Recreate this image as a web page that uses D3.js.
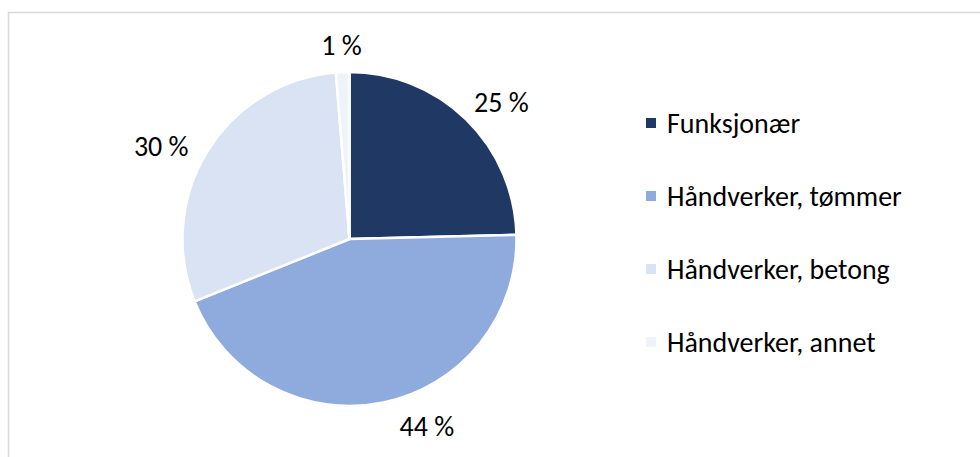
<!DOCTYPE html>
<html><head><meta charset="utf-8">
<script src="https://cdn.jsdelivr.net/npm/d3@7"></script>
<style>html,body{margin:0;padding:0;background:#fff;} svg{display:block;}</style>
</head><body>
<svg id="chart" width="980" height="457"></svg>
<script>
const categories = ["Funksjonær", "Håndverker, tømmer", "Håndverker, betong", "Håndverker, annet"];
const values = [24.6, 44.3, 29.8, 1.3];
const colors = ["#203864", "#8faadc", "#dae3f3", "#eef3fa"];

// label layout (Excel best-fit style): angle nudge in degrees and distance from centre
const labelNudge = [3.8, -10.7, -5.4, 0];
const labelDist = [204, 203, 210, 194];

const svg = d3.select("#chart");
const font = "Carlito, Calibri, 'Open Sans', sans-serif";

svg.append("rect").attr("x", 8.5).attr("y", 12.5).attr("width", 1000).attr("height", 500)
  .attr("fill", "#fff").attr("stroke", "#d9d9d9").attr("stroke-width", 1.5);

// fit font size so the legend text width matches the reference
const probe = svg.append("text").attr("font-family", font).attr("font-size", 20).text("Håndverker, tømmer");
const w20 = probe.node().getComputedTextLength();
probe.remove();
const fs = 20 * 235 / w20;

const cx = 349.5, cy = 239, r = 167;
const data = categories.map((c, i) => ({cat: c, value: values[i], color: colors[i], i}));
const pie = d3.pie().value(d => d.value).sort(null);
const arcs = pie(data);
const arc = d3.arc().innerRadius(0).outerRadius(r);
const g = svg.append("g").attr("transform", `translate(${cx},${cy})`);
g.selectAll("path").data(arcs).join("path")
  .attr("d", arc).attr("fill", d => d.data.color)
  .attr("stroke", "#fff").attr("stroke-width", 2.5).attr("stroke-linejoin", "round");

const fmt = d3.format(".0f");
g.selectAll("text.lbl").data(arcs).join("text").attr("class", "lbl")
  .attr("transform", d => {
    const a = (d.startAngle + d.endAngle) / 2 + labelNudge[d.data.i] * Math.PI / 180;
    const dist = labelDist[d.data.i];
    return `translate(${Math.sin(a) * dist},${-Math.cos(a) * dist})`;
  })
  .attr("text-anchor", "middle").attr("dominant-baseline", "central")
  .attr("font-family", font).attr("font-size", fs).attr("fill", "#000")
  .text(d => fmt(d.data.value) + " %");

const legend = svg.append("g").attr("transform", "translate(646,123)");
const items = legend.selectAll("g").data(data).join("g")
  .attr("transform", (d, i) => `translate(0,${i * 73})`);
items.append("rect").attr("x", 0).attr("y", -5).attr("width", 10).attr("height", 10).attr("fill", d => d.color);
items.append("text").attr("x", 21).attr("y", 0).attr("dominant-baseline", "central")
  .attr("font-family", font).attr("font-size", fs).attr("fill", "#000").text(d => d.cat);
</script>
</body></html>
